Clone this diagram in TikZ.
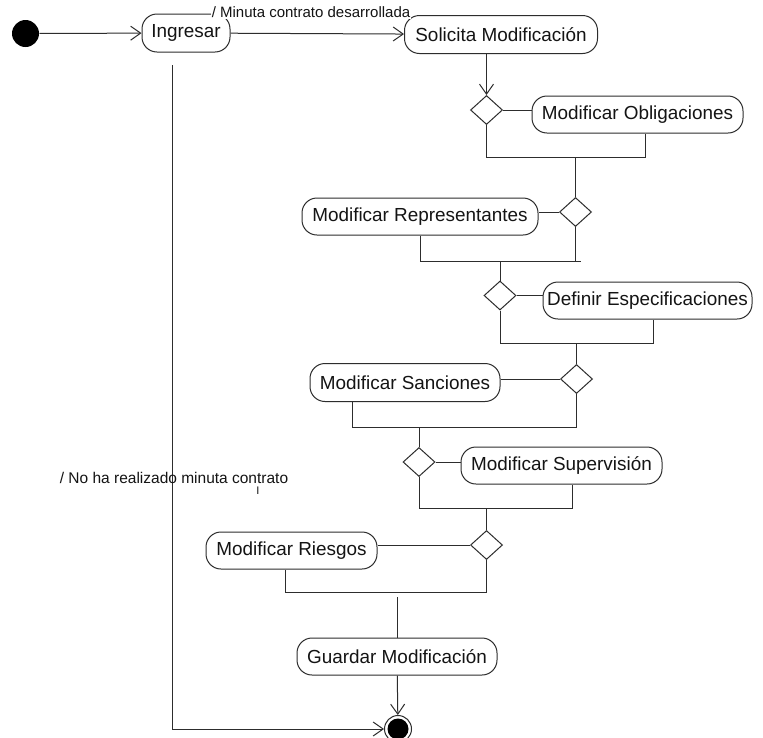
\documentclass[tikz,border=0pt]{standalone}
\usepackage{fontspec}
\setmainfont{Liberation Sans}
\usetikzlibrary{shapes.geometric,arrows.meta,calc}
\definecolor{ln}{RGB}{45,45,45}
\definecolor{tx}{RGB}{20,20,20}
\begin{document}
\begin{tikzpicture}[x=1pt,y=-1pt,line width=1pt,
  act/.style={draw=ln,rectangle,rounded corners=15pt,minimum height=37pt,inner sep=0pt,
    text=tx,font=\fontsize{18.9}{20}\selectfont},
  dec/.style={draw=ln,diamond,minimum width=32pt,minimum height=29pt,inner sep=0pt},
  wire/.style={draw=ln},
  flow/.style={draw=ln,-{Straight Barb[length=10pt,width=14pt,line width=1pt]}},
  startnode/.style={circle,fill=black,minimum size=27pt,inner sep=0pt},
  finalnode/.style={circle,draw=ln,fill=white,minimum size=27pt,inner sep=0pt,
    path picture={\fill[black] (path picture bounding box.center) circle (10.5pt);}},
  lab/.style={text=tx,inner sep=1pt}]
\useasboundingbox (0,0) rectangle (763,737);
\fill[white] (0,0) rectangle (763,737);

% nodes
\node[startnode] (ini) at (25.5,33.5) {};
\node[act,minimum width=88pt,minimum height=38pt] (ing) at (186,33) {Ingresar};
\node[act,minimum width=193pt,minimum height=38pt] (sol) at (501,34.5) {Solicita Modificación};
\node[dec] (d1) at (486.5,110) {};
\node[act,minimum width=211pt] (obl) at (637.5,114.5) {Modificar Obligaciones};
\node[dec] (d2) at (575.5,212) {};
\node[act,minimum width=236pt] (rep) at (420,216.5) {Modificar Representantes};
\node[dec] (d3) at (500,295.5) {};
\node[act,minimum width=209pt] (def) at (647.5,300.5) {Definir Especificaciones};
\node[dec] (d4) at (576.5,379) {};
\node[act,minimum width=190pt,minimum height=38pt] (san) at (405,382.5) {Modificar Sanciones};
\node[dec] (d5) at (419,462) {};
\node[act,minimum width=201pt] (sup) at (561.5,465.5) {Modificar Supervisión};
\node[dec] (d6) at (486.5,545) {};
\node[act,minimum width=171pt] (rie) at (291.5,550.5) {Modificar Riesgos};
\node[act,minimum width=200pt] (gua) at (397,656.5) {Guardar Modificación};
\node[finalnode] (fin) at (398,729) {};

% junction coordinates
\coordinate (b1) at (645,157);
\coordinate (b2) at (581,261);
\coordinate (b3) at (653,343);
\coordinate (b4) at (352,427);
\coordinate (b5) at (572,508);
\coordinate (b6) at (285,592);
\coordinate (s6) at (397,597);
\coordinate (l0) at (172,65);

% connectors
\draw[flow] (ini) -- (ing);
\draw[flow] (ing) -- (sol);
\draw[flow] (sol.south -| d1.north) -- (d1.north);
\draw[wire] (d1.east) -- (d1.east -| obl.west);
\draw[wire] (d1.south) |- (b1) -- (b1 |- obl.south);
\draw[wire] (d2.north |- b1) -- (d2.north);

\draw[wire] (rep.east |- d2) -- (d2.west);
\draw[wire] (rep.south) |- (b2);
\draw[wire] (d2.south) -- (d2.south |- b2);
\draw[wire] (d3.north |- b2) -- (d3.north);

\draw[wire] (d3.east) -- (d3.east -| def.west);
\draw[wire] (d3.south) |- (b3) -- (b3 |- def.south);
\draw[wire] (d4.north |- b3) -- (d4.north);

\draw[wire] (san.east |- d4) -- (d4.west);
\draw[wire] (d4.south) |- (b4) -- (b4 |- san.south);
\draw[wire] (d5.north |- b4) -- (d5.north);

\draw[wire] (d5.east) -- (d5.east -| sup.west);
\draw[wire] (d5.south) |- (b5) -- (b5 |- sup.south);
\draw[wire] (d6.north |- b5) -- (d6.north);

\draw[wire] (rie.east |- d6) -- (d6.west);
\draw[wire] (d6.south) |- (b6) -- (b6 |- rie.south);
\draw[wire] (s6) -- (gua.north);
\draw[flow] (gua) -- (fin);

\draw[flow] (l0) |- (fin.west);

% labels
\node[lab,fill=white,font=\fontsize{15}{16}\selectfont] (lab1) at (311,12) {/ Minuta contrato desarrollada};
\node[lab,font=\fontsize{15.5}{17}\selectfont] (lab2) at (174,478) {/ No ha realizado minuta contrato};
\node[lab,font=\fontsize{11}{12}\selectfont] (tick) at (258,491) {I};
\end{tikzpicture}
\end{document}
